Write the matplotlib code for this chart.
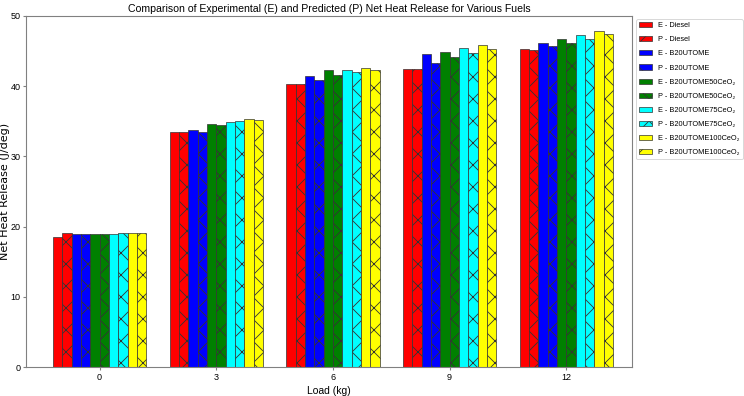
import numpy as np
import matplotlib
matplotlib.use("Agg")
import matplotlib.pyplot as plt

# drawn at a low dpi so the hatch comes out as fine as in the reference
DPI = 66
S = 100 / DPI

plt.rcParams['font.family'] = ['Liberation Sans', 'DejaVu Sans']
plt.rcParams['hatch.linewidth'] = 0.6 * S

loads = ['0', '3', '6', '9', '12']

e_diesel = [18.5, 33.5, 40.3, 42.4, 45.3]
p_diesel = [19.1, 33.5, 40.3, 42.4, 45.2]
e_b20 = [18.9, 33.8, 41.5, 44.6, 46.2]
p_b20 = [19.0, 33.5, 40.9, 43.3, 45.7]
e_b20_50 = [18.9, 34.6, 42.3, 44.9, 46.7]
p_b20_50 = [19.0, 34.5, 41.6, 44.2, 46.2]
e_b20_75 = [19.0, 34.9, 42.3, 45.4, 47.3]
p_b20_75 = [19.1, 35.1, 42.0, 44.7, 46.7]
e_b20_100 = [19.1, 35.3, 42.6, 45.8, 47.9]
p_b20_100 = [19.1, 35.2, 42.3, 45.3, 47.4]

fuels = ['Diesel', 'B20UTOME', 'B20UTOME50CeO\u2082', 'B20UTOME75CeO\u2082', 'B20UTOME100CeO\u2082']
colors = ['red', 'blue', 'green', 'cyan', 'yellow']
series = [(e_diesel, p_diesel), (e_b20, p_b20), (e_b20_50, p_b20_50),
          (e_b20_75, p_b20_75), (e_b20_100, p_b20_100)]

fig = plt.figure(figsize=(744 / DPI, 396 / DPI), dpi=DPI)
ax = fig.add_axes([0.035, 0.073, 0.814, 0.887])

x = np.arange(len(loads))
width = 0.08
i = 0
for (fuel, col, (e_vals, p_vals)) in zip(fuels, colors, series):
    ax.bar(x + (i - 4.5) * width, e_vals, width, color=col, edgecolor='#333333',
           linewidth=0.5 * S, label='E - ' + fuel)
    i += 1
    ax.bar(x + (i - 4.5) * width, p_vals, width, color=col, edgecolor='#333333',
           linewidth=0.5 * S, hatch='x', label='P - ' + fuel)
    i += 1

ax.set_xticks(x)
ax.set_xticklabels(loads)
ax.set_xlim(-0.63, 4.56)
ax.set_ylim(0, 50)
ax.tick_params(labelsize=6.5 * S, length=2 * S, width=0.8 * S, color='gray', pad=2 * S)
for sp in ax.spines.values():
    sp.set_color('gray')
    sp.set_linewidth(0.8 * S)
ax.set_xlabel('Load (kg)', fontsize=7.5 * S, labelpad=3 * S)
ax.set_ylabel('Net Heat Release (J/deg)', fontsize=8 * S, family='DejaVu Sans')
ax.yaxis.set_label_coords(-0.027, 0.5)
ax.set_title('Comparison of Experimental (E) and Predicted (P) Net Heat Release for Various Fuels',
             fontsize=7.6 * S, pad=3 * S)
ax.legend(loc='upper left', bbox_to_anchor=(1.005, 0.995), fontsize=5.3 * S, handlelength=1.8,
          borderaxespad=0.2, labelspacing=0.95, handletextpad=0.8)

fig.savefig('out.png', dpi=DPI)
